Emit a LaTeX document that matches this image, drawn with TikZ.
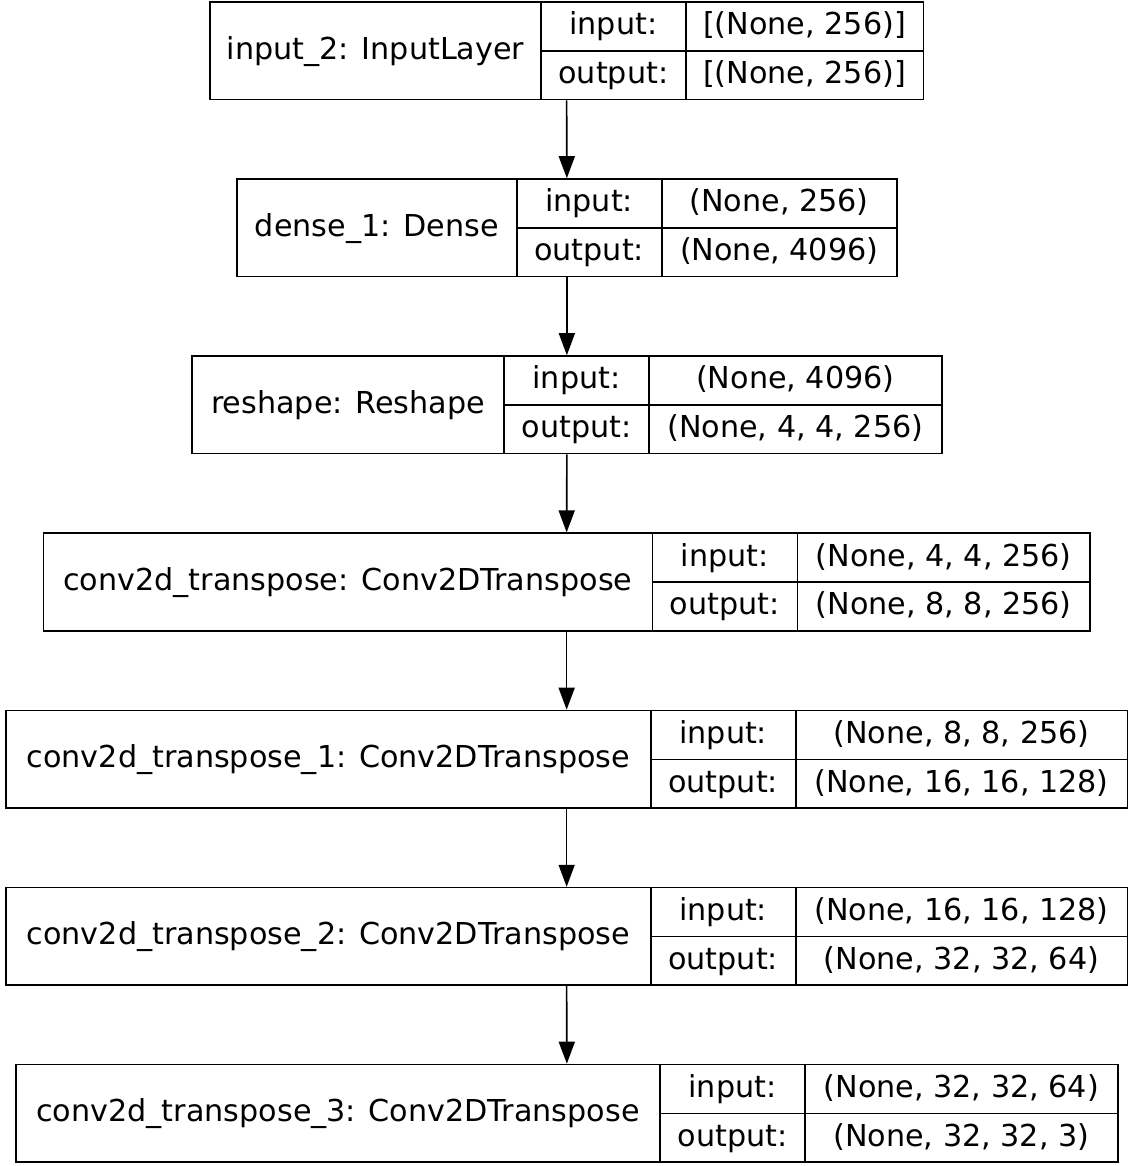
\documentclass[tikz,border=0pt]{standalone}
\usepackage{fontspec}
\setmainfont{DejaVu Sans}
\usetikzlibrary{arrows.meta}
\tikzset{
  kbox/.style={draw=black, line width=1.6pt, inner sep=0pt, minimum height=97.6pt},
  ktxt/.style={anchor=base, inner sep=0pt, font=\fontsize{30.2}{36}\selectfont},
  kline/.style={draw=black, line width=1.6pt},
  karrow/.style={draw=black, line width=1.6pt, -{Triangle[length=22pt,width=16pt]}},
}
% name, left, d1, d2, right, top, label, input value, output value
\newcommand\kerasbox[9]{%
  \node[kbox, minimum width={#5pt-#2pt}] (#1) at ({(#2+#5)/2},{#6+48.8}) {};
  \draw[kline] ({#3},{#6}) -- ({#3},{#6+97.6});
  \draw[kline] ({#4},{#6}) -- ({#4},{#6+97.6});
  \draw[kline] ({#3},{#6+48.8}) -- ({#5},{#6+48.8});
  \node[ktxt] (#1-name) at ({(#2+#3)/2},{#6+57.3}) {#7};
  \node[ktxt] (#1-inl) at ({(#3+#4)/2},{#6+32.9}) {input:};
  \node[ktxt] (#1-outl) at ({(#3+#4)/2},{#6+81.7}) {output:};
  \node[ktxt] (#1-inv) at ({(#4+#5)/2},{#6+32.9}) {#8};
  \node[ktxt] (#1-outv) at ({(#4+#5)/2},{#6+81.7}) {#9};
}
\begin{document}
\begin{tikzpicture}[x=1pt,y=-1pt]
  \fill[white] (0,0) rectangle (1136,1166);
  \useasboundingbox (0,0) rectangle (1136,1166);
  \kerasbox{L1}{210}{541}{685.7}{923.3}{2}{input\_2: InputLayer}{[(None, 256)]}{[(None, 256)]}
  \kerasbox{L2}{237}{516.7}{661.7}{896.7}{179}{dense\_1: Dense}{(None, 256)}{(None, 4096)}
  \kerasbox{L3}{192}{504}{649}{941.7}{356}{reshape: Reshape}{(None, 4096)}{(None, 4, 4, 256)}
  \kerasbox{L4}{43.3}{652.3}{797.3}{1090}{533.2}{conv2d\_transpose: Conv2DTranspose}{(None, 4, 4, 256)}{(None, 8, 8, 256)}
  \kerasbox{L5}{6}{650.7}{795.7}{1127.3}{710.5}{conv2d\_transpose\_1: Conv2DTranspose}{(None, 8, 8, 256)}{(None, 16, 16, 128)}
  \kerasbox{L6}{6}{650.7}{795.7}{1127.3}{887.6}{conv2d\_transpose\_2: Conv2DTranspose}{(None, 16, 16, 128)}{(None, 32, 32, 64)}
  \kerasbox{L7}{16}{660}{805}{1117.7}{1064.5}{conv2d\_transpose\_3: Conv2DTranspose}{(None, 32, 32, 64)}{(None, 32, 32, 3)}
  \draw[karrow] (L1.south) -- (L2.north);
  \draw[karrow] (L2.south) -- (L3.north);
  \draw[karrow] (L3.south) -- (L4.north);
  \draw[karrow] (L4.south) -- (L5.north);
  \draw[karrow] (L5.south) -- (L6.north);
  \draw[karrow] (L6.south) -- (L7.north);
\end{tikzpicture}
\end{document}
